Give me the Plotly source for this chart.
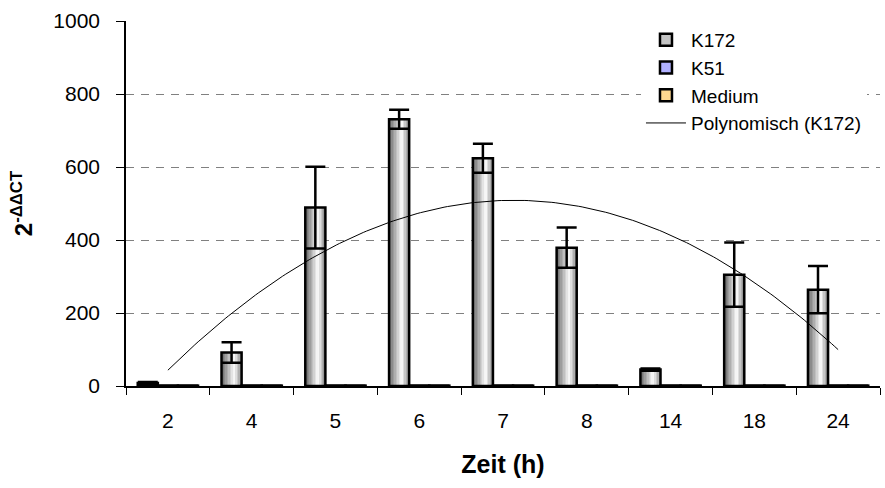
import numpy as np
import plotly.graph_objects as go

# ---- data ----
categories = ["2", "4", "5", "6", "7", "8", "14", "18", "24"]
k172 = [8, 92, 489, 731, 624, 379, 45, 305, 264]
k172_err = [3, 28, 112, 26, 40, 55, 3, 88, 65]
k51 = [1, 1, 1, 1, 1, 1, 1, 1, 1]
k51_err = [0, 0, 0, 0, 0, 0, 0, 0, 0]
medium = [1, 1, 1, 1, 1, 1, 1, 1, 1]
medium_err = [0, 0, 0, 0, 0, 0, 0, 0, 0]
series_names = ["K172", "K51", "Medium"]
trend_name = "Polynomisch (K172)"
x_title = "Zeit (h)"
y_title = "2<sup>-ΔΔCT</sup>"
y_ticks = [0, 200, 400, 600, 800, 1000]

series = [
    (series_names[0], k172, k172_err, [(95, 95, 95), (255, 255, 255), (140, 140, 140)], "#c4c4c4"),
    (series_names[1], k51, k51_err, [(90, 90, 255), (255, 255, 255), (150, 150, 255)], "#b0b0ff"),
    (series_names[2], medium, medium_err, [(255, 195, 95), (255, 255, 255), (255, 215, 150)], "#ffd890"),
]

def grad(stops, t, mid=0.65):
    if t <= mid:
        a, b, f = stops[0], stops[1], t / mid
    else:
        a, b, f = stops[1], stops[2], (t - mid) / (1 - mid)
    return "rgb(%d,%d,%d)" % tuple(int(round(a[i] + (b[i] - a[i]) * f)) for i in range(3))

fig = go.Figure()
bw = 0.24
start = -0.36
nstrip = 14
for si, (name, vals, errs, stops, legcol) in enumerate(series):
    base = start + si * bw
    sw = bw / nstrip
    for k in range(nstrip):
        fig.add_trace(go.Bar(
            x=categories, y=vals, width=sw * 1.02, offset=base + k * sw,
            marker=dict(color=grad(stops, (k + 0.5) / nstrip), line=dict(width=0)),
            showlegend=False, hoverinfo="skip"))
    fig.add_trace(go.Bar(
        x=categories, y=vals, width=bw, offset=base,
        marker=dict(color="rgba(0,0,0,0)", line=dict(color="black", width=2.5)),
        error_y=dict(type="data", array=errs, visible=True, color="black",
                     thickness=2.5, width=10),
        showlegend=False, name=name))

# legend entries
for name, vals, errs, stops, legcol in series:
    fig.add_trace(go.Bar(x=[None], y=[None], name=name,
                         marker=dict(color=legcol, line=dict(color="black", width=2.5))))

# polynomial trendline (order 2) fitted to K172
idx = np.arange(len(categories))
coef = np.polyfit(idx, k172, 2)
xs = np.linspace(0, len(categories) - 1, 200)
fig.add_trace(go.Scatter(x=xs, y=np.polyval(coef, xs), mode="lines", xaxis="x2",
                         line=dict(color="black", width=1), name=trend_name))

font = "Liberation Sans, Arial, sans-serif"
fig.update_layout(
    width=885, height=488,
    margin=dict(l=126, r=5, t=21, b=102),
    plot_bgcolor="white", paper_bgcolor="white",
    barmode="overlay",
    font=dict(family=font, size=21, color="black"),
    showlegend=True,
    legend=dict(x=0.683, y=1.0, xanchor="left", yanchor="top",
                bgcolor="white", font=dict(size=19), tracegroupgap=0,
                itemwidth=40, traceorder="normal"),
    xaxis=dict(type="category", range=[-0.5, 8.5], showline=True, linecolor="black",
               linewidth=1.5, ticks="outside", ticklen=7, tickcolor="black",
               tickson="boundaries", showgrid=False, ticklabelstandoff=15,
               title=dict(text="<b>" + x_title + "</b>", font=dict(size=25), standoff=25),
               fixedrange=True),
    xaxis2=dict(overlaying="x", range=[-0.5, 8.5], visible=False, fixedrange=True),
    yaxis=dict(range=[0, 1000], tickvals=y_ticks, showline=True, linecolor="black",
               linewidth=1.5, ticks="outside", ticklen=8, tickcolor="black",
               showgrid=True, gridcolor="#808080", gridwidth=1, griddash="8px,7px",
               zeroline=False, ticklabelstandoff=12,
               title=dict(text="<b>" + y_title + "</b>", font=dict(size=24), standoff=14),
               fixedrange=True),
)
fig.write_html("out.html")
